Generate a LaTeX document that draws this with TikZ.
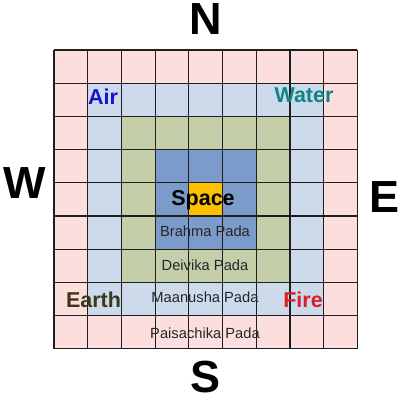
\documentclass[tikz,border=0pt]{standalone}
\usepackage{fontspec}
\setmainfont{Liberation Sans}
\definecolor{pinkc}{HTML}{FDDEDF}
\definecolor{lblue}{HTML}{CDDAEC}
\definecolor{greenc}{HTML}{C4CFA9}
\definecolor{dblue}{HTML}{7C9BCB}
\definecolor{yell}{HTML}{FFC000}
\definecolor{airc}{HTML}{1414CC}
\definecolor{waterc}{HTML}{0E8585}
\definecolor{earthc}{HTML}{3B3A16}
\definecolor{firec}{HTML}{DD1E26}
\definecolor{gridc}{HTML}{1E1E1E}
\tikzset{
  compass/.style={anchor=base,inner sep=0pt,font=\fontsize{45}{45}\selectfont\bfseries},
  element/.style={anchor=base,inner sep=0pt,font=\fontsize{21.5}{21.5}\selectfont\bfseries},
  pada/.style={anchor=base,inner sep=0pt,text=black!85,font=\fontsize{14.7}{14.7}\selectfont},
  gridline/.style={draw=gridc,line width=1.2pt}
}
\begin{document}
\begin{tikzpicture}[x=1pt,y=-1pt]
\useasboundingbox (0,0) rectangle (400,400);
\def\cw{33.7}
\def\ch{33.2}
\def\ox{54}
\def\oy{50}
% rings
\fill[pinkc] (\ox,\oy) rectangle ({\ox+9*\cw},{\oy+9*\ch});
\fill[lblue] ({\ox+1*\cw},{\oy+1*\ch}) rectangle ({\ox+8*\cw},{\oy+8*\ch});
\fill[greenc] ({\ox+2*\cw},{\oy+2*\ch}) rectangle ({\ox+7*\cw},{\oy+7*\ch});
\fill[dblue] ({\ox+3*\cw},{\oy+3*\ch}) rectangle ({\ox+6*\cw},{\oy+6*\ch});
\fill[yell] ({\ox+4*\cw},{\oy+4*\ch}) rectangle ({\ox+5*\cw},{\oy+5*\ch});
% grid
\foreach \i in {0,...,9}{
  \draw[gridline] ({\ox+\i*\cw},\oy) -- ({\ox+\i*\cw},{\oy+9*\ch});
  \draw[gridline] (\ox,{\oy+\i*\ch}) -- ({\ox+9*\cw},{\oy+\i*\ch});
}
% compass
\node[compass] (n) at (205.5,34) {N};
\node[compass] (s) at (205.5,392) {S};
\node[compass] (w) at (25,198) {W};
\node[compass] (e) at (384.5,212) {E};
% elements
\node[element,text=airc] (air) at (103,104) {Air};
\node[element,text=waterc] (water) at (304,102) {Water};
\node[element,text=earthc] (earth) at (93.5,307) {Earth};
\node[element,text=firec] (fire) at (303,307) {Fire};
\node[element,text=black] (space) at (203,205) {Space};
% padas
\node[pada] (brahma) at (205,236.5) {Brahma Pada};
\node[pada] (deivika) at (205,270.5) {Deivika Pada};
\node[pada] (maanusha) at (205,302.3) {Maanusha Pada};
\node[pada] (paisachika) at (205,338.5) {Paisachika Pada};
\end{tikzpicture}
\end{document}
